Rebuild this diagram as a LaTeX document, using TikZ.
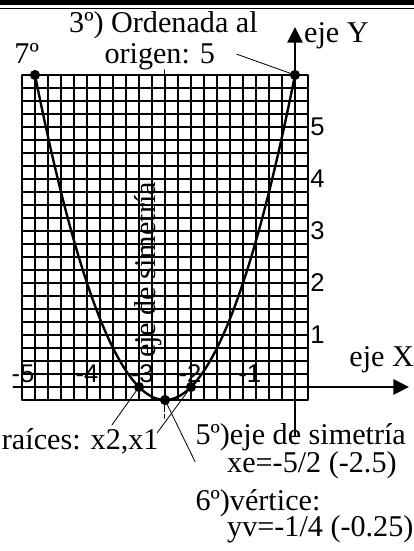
\documentclass[tikz,border=0pt]{standalone}
\usepackage{fontspec}
\setmainfont{Liberation Serif}
\newfontfamily\numfont{Liberation Sans}
\usetikzlibrary{arrows.meta}
\tikzset{
  texto/.style={font=\fontsize{16.5}{18}\selectfont, inner sep=0pt},
  numero/.style={font=\numfont\fontsize{14}{15}\selectfont, inner sep=0pt},
  guia/.style={line width=0.45pt},
}
\begin{document}
\begin{tikzpicture}[line cap=round,line join=round,>={Triangle[length=8.5pt,width=8.5pt]},x=1cm,y=1cm]
		\useasboundingbox (-5.673,-3.154) rectangle (2.288,7.442);
		% cabecera
		\fill (-5.673,7.346) rectangle (2.288,7.442);
		\draw[line width=0.7pt,line cap=butt] (-5.673,7.278) -- (2.288,7.278);
		% cuadricula
		\draw[line width=0.7pt] (-5.25,-0.25) grid[step=0.25] (0.25,6);
		% ejes
		\draw[->,line width=0.75pt] (-5.42,0) -- (2.19,0);
		\draw[->,line width=0.75pt] (0,-0.95) -- (0,6.92);
		\node[texto,anchor=base west] (ejex) at (1.04,0.385) {eje X};
		\node[texto,anchor=base west] (ejey) at (0.17,6.62) {eje Y};
		\foreach \y in {1,...,5} {
			\draw (-0.1,\y) -- (0.1,\y);
			\node[numero,anchor=west] (ey\y) at (0.29,\y) {\y};
		}
		\foreach \x/\u [count=\i] in {-5/-5.23,-4/-4.0,-3/-2.94,-2/-2.02,-1/-0.87}
			\node[numero,anchor=south] (ex\i) at (\u,0.08) {\x};
		% eje de simetria
		\draw[line width=0.55pt,dash pattern=on 5pt off 1.5pt] (-2.5,6.1) -- (-2.5,-0.6);
		\node[texto,rotate=90,anchor=base] (simetria) at (-2.69,2.25) {eje de simetría};
		% parabola
		\draw[line width=1.3pt] plot[domain=-5:0,samples=60,smooth] (\x,{\x*\x+5*\x+6});
		\coordinate (p7) at (-5,6);
		\coordinate (pord) at (0,6);
		\coordinate (r2) at (-3,0);
		\coordinate (r1) at (-2,0);
		\coordinate (vert) at (-2.5,-0.25);
		% textos
		\node[texto,anchor=base] (ordenada) at (-2.53,6.81) {3º) Ordenada al};
		\node[texto,anchor=base] (origen) at (-2.6,6.23) {origen: 5};
		\node[texto,anchor=base] (siete) at (-5.16,6.23) {7º};
		\node[texto,anchor=base] (raices) at (-4.13,-1.21) {raíces: x2,x1};
		\node[texto,anchor=base west] (quinto) at (-1.92,-1.115) {5º)eje de simetría};
		\node[texto,anchor=base west] (xe) at (-1.31,-1.65) {xe=-5/2 (-2.5)};
		\node[texto,anchor=base west] (sexto) at (-1.92,-2.37) {6º)vértice:};
		\node[texto,anchor=base west] (yv) at (-1.31,-2.88) {yv=-1/4 (-0.25)};
		% lineas guia
		\coordinate (lo) at (-1.12,6.40);
		\coordinate (lr2) at (-3.52,-0.73);
		\coordinate (lr1) at (-2.65,-0.88);
		\coordinate (lv) at (-1.92,-1.44);
		\draw[guia] (lo) -- (pord);
		\draw[guia] (lr2) -- (r2);
		\draw[guia] (lr1) -- (r1);
		\draw[guia] (vert) -- (lv);
		% puntos
		\filldraw (p7) circle (0.09);
		\filldraw (pord) circle (0.09);
		\filldraw (r2) circle (0.09);
		\filldraw (r1) circle (0.09);
		\filldraw (vert) circle (0.09);
\end{tikzpicture}
\end{document}
